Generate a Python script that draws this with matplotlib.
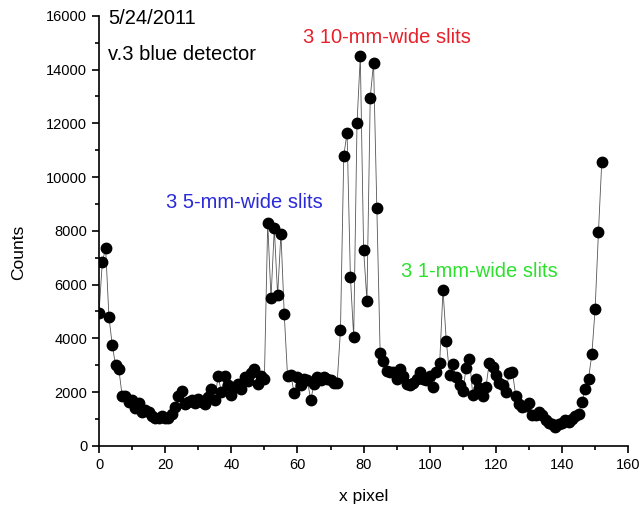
import matplotlib
matplotlib.use('Agg')
import matplotlib.pyplot as plt
from matplotlib.ticker import MultipleLocator

plt.rcParams['font.family'] = ['Liberation Sans', 'DejaVu Sans']

# pixel index and counts
pixels = list(range(153))
counts = [
    4950, 6850, 7350, 4800, 3750, 3000, 2850, 1850, 1850, 1650,
    1700, 1400, 1600, 1250, 1350, 1250, 1100, 1050, 1050, 1100,
    1050, 1050, 1200, 1450, 1850, 2050, 1550, 1650, 1700, 1600,
    1750, 1650, 1550, 1800, 2100, 1700, 2600, 2000, 2600, 2250,
    1900, 2200, 2300, 2100, 2550, 2400, 2700, 2850, 2300, 2600,
    2500, 8300, 5500, 8100, 5600, 7900, 4900, 2600, 2650, 1950,
    2550, 2250, 2500, 2450, 1700, 2300, 2550, 2450, 2550, 2500,
    2450, 2350, 2350, 4300, 10800, 11650, 6300, 4050, 12000, 14500,
    7300, 5400, 12950, 14250, 8850, 3450, 3150, 2800, 2750, 2750,
    2500, 2850, 2600, 2300, 2250, 2350, 2500, 2750, 2500, 2450,
    2600, 2200, 2750, 3100, 5800, 3900, 2650, 3050, 2550, 2250,
    2050, 2900, 3250, 1900, 2500, 2150, 1850, 2200, 3100, 2950,
    2650, 2350, 2250, 2000, 2700, 2750, 1850, 1550, 1450, 1500,
    1600, 1150, 1150, 1250, 1150, 950, 850, 800, 720, 800,
    850, 950, 900, 1000, 1100, 1200, 1650, 2100, 2500, 3400,
    5100, 7950, 10550,
]

fig = plt.figure(figsize=(6.43, 5.09), dpi=100)
ax = fig.add_axes([0.154, 0.124, 0.823, 0.845])

ax.plot(pixels, counts, color='#555555', lw=0.6, marker='o', ms=7.5,
        mfc='black', mec='black')

ax.set_xlim(0, 160)
ax.set_ylim(0, 16000)
ax.xaxis.set_major_locator(MultipleLocator(20))
ax.xaxis.set_minor_locator(MultipleLocator(10))
ax.yaxis.set_major_locator(MultipleLocator(2000))
ax.yaxis.set_minor_locator(MultipleLocator(1000))
ax.spines['top'].set_visible(False)
ax.spines['right'].set_visible(False)
ax.spines['left'].set_linewidth(1.2)
ax.spines['bottom'].set_linewidth(1.2)
ax.tick_params(which='both', direction='out', width=1.2, labelsize=10.5)
ax.tick_params(which='major', length=5)
ax.tick_params(which='minor', length=3)

ax.set_xlabel('x pixel', fontsize=12.5)
ax.set_ylabel('Counts', fontsize=12.5)
ax.xaxis.set_label_coords(0.5, -0.10)
ax.yaxis.set_label_coords(-0.138, 0.449)

ax.text(2.7, 15900, '5/24/2011', fontsize=14.5, va='center', ha='left')
ax.text(2.7, 14550, 'v.3 blue detector', fontsize=14.5, va='center', ha='left')
ax.text(87, 15180, '3 10-mm-wide slits', fontsize=14.5, color='#e8202a',
        ha='center', va='center')
ax.text(44, 9040, '3 5-mm-wide slits', fontsize=14.5, color='#2a2ad8',
        ha='center', va='center')
ax.text(115, 6470, '3 1-mm-wide slits', fontsize=14.5, color='#2ee02e',
        ha='center', va='center')

fig.savefig('out.png', dpi=100)
